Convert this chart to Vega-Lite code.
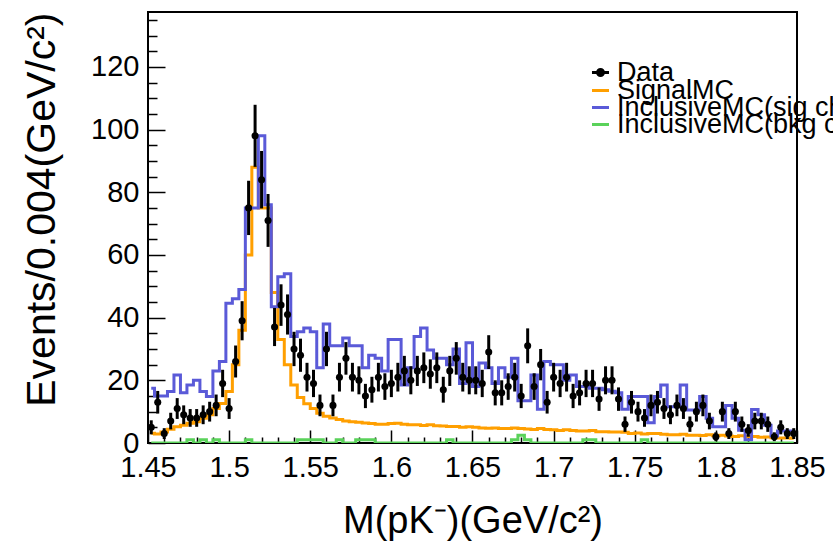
{
  "$schema": "https://vega.github.io/schema/vega-lite/v6.json",
  "width": 649,
  "height": 431,
  "autosize": {"type": "none"},
  "padding": {"left": 148, "top": 12, "right": 36, "bottom": 100},
  "background": "white",
  "config": {
    "view": {"stroke": "black", "strokeWidth": 2},
    "font": "Liberation Sans",
    "axis": {
      "domain": false, "ticks": false, "grid": true,
      "gridColor": "black", "gridWidth": 1.5, "gridOpacity": 1,
      "labelFont": "Liberation Sans", "titleFont": "Liberation Sans",
      "labelColor": "black", "titleColor": "black", "titleFontWeight": "normal",
      "labelFontSize": 29
    },
    "legend": {
      "orient": "none", "title": null, "padding": 0,
      "labelFont": "Liberation Sans", "labelFontSize": 27, "labelColor": "black",
      "labelLimit": 1000, "labelOffset": 3,
      "symbolStrokeWidth": 3, "symbolSize": 290
    }
  },
  "resolve": {"scale": {"color": "independent"}},
  "data": {"values": [
    {"m":1.452,"n":5,"err":2.24,"sig":3.1,"inc":17.5,"bkg":0},
    {"m":1.456,"n":13,"err":3.61,"sig":2.9,"inc":15,"bkg":0},
    {"m":1.460,"n":3,"err":1.73,"sig":3.5,"inc":15,"bkg":0},
    {"m":1.464,"n":7,"err":2.65,"sig":4.4,"inc":16.4,"bkg":0},
    {"m":1.468,"n":11,"err":3.32,"sig":5.2,"inc":21.7,"bkg":0},
    {"m":1.472,"n":9,"err":3,"sig":5.7,"inc":16,"bkg":0},
    {"m":1.476,"n":8,"err":2.83,"sig":6.3,"inc":18.5,"bkg":1},
    {"m":1.480,"n":8,"err":2.83,"sig":6.8,"inc":20,"bkg":0},
    {"m":1.484,"n":9,"err":3,"sig":7.9,"inc":16.4,"bkg":1},
    {"m":1.488,"n":10,"err":3.16,"sig":9,"inc":14.8,"bkg":0},
    {"m":1.492,"n":12,"err":3.46,"sig":11,"inc":23,"bkg":1},
    {"m":1.496,"n":19,"err":4.36,"sig":12.6,"inc":26,"bkg":0},
    {"m":1.500,"n":11,"err":3.32,"sig":16.4,"inc":44.6,"bkg":0},
    {"m":1.504,"n":26,"err":5.1,"sig":25,"inc":46,"bkg":0},
    {"m":1.508,"n":39,"err":6.24,"sig":36,"inc":49,"bkg":0},
    {"m":1.512,"n":75,"err":8.66,"sig":60,"inc":75,"bkg":1},
    {"m":1.516,"n":98,"err":9.9,"sig":88,"inc":75,"bkg":0},
    {"m":1.520,"n":84,"err":9.17,"sig":75,"inc":98,"bkg":0},
    {"m":1.524,"n":71,"err":8.43,"sig":75,"inc":76,"bkg":0},
    {"m":1.528,"n":37,"err":6.08,"sig":48,"inc":43.5,"bkg":0},
    {"m":1.532,"n":44,"err":6.63,"sig":33,"inc":53,"bkg":0},
    {"m":1.536,"n":41,"err":6.4,"sig":25,"inc":54,"bkg":0},
    {"m":1.540,"n":30,"err":5.48,"sig":18.5,"inc":34,"bkg":0},
    {"m":1.544,"n":28,"err":5.29,"sig":14.5,"inc":35.5,"bkg":1},
    {"m":1.548,"n":21,"err":4.58,"sig":12.5,"inc":36.7,"bkg":1},
    {"m":1.552,"n":19,"err":4.36,"sig":11,"inc":35.5,"bkg":1},
    {"m":1.556,"n":12,"err":3.46,"sig":9.5,"inc":24,"bkg":1},
    {"m":1.560,"n":30,"err":5.48,"sig":8.5,"inc":38,"bkg":0},
    {"m":1.564,"n":12,"err":3.46,"sig":8,"inc":31,"bkg":0},
    {"m":1.568,"n":21,"err":4.58,"sig":7.5,"inc":31,"bkg":1},
    {"m":1.572,"n":27,"err":5.2,"sig":7,"inc":33.5,"bkg":0},
    {"m":1.576,"n":21,"err":4.58,"sig":6.8,"inc":31,"bkg":0},
    {"m":1.580,"n":20,"err":4.47,"sig":6.6,"inc":31,"bkg":1},
    {"m":1.584,"n":15,"err":3.87,"sig":6.4,"inc":24,"bkg":1},
    {"m":1.588,"n":17,"err":4.12,"sig":6.2,"inc":28,"bkg":1},
    {"m":1.592,"n":21,"err":4.58,"sig":6,"inc":27,"bkg":0},
    {"m":1.596,"n":18,"err":4.24,"sig":6,"inc":23,"bkg":0},
    {"m":1.600,"n":19,"err":4.36,"sig":6.2,"inc":33,"bkg":0},
    {"m":1.604,"n":21,"err":4.58,"sig":6.3,"inc":33,"bkg":0},
    {"m":1.608,"n":23,"err":4.8,"sig":6,"inc":18.5,"bkg":0},
    {"m":1.612,"n":20,"err":4.47,"sig":5.8,"inc":24,"bkg":0},
    {"m":1.616,"n":23,"err":4.8,"sig":5.8,"inc":34,"bkg":0},
    {"m":1.620,"n":24,"err":4.9,"sig":5.6,"inc":36.7,"bkg":0},
    {"m":1.624,"n":22,"err":4.69,"sig":5.8,"inc":29.7,"bkg":0},
    {"m":1.628,"n":24,"err":4.9,"sig":5.5,"inc":27,"bkg":0},
    {"m":1.632,"n":17,"err":4.12,"sig":5.4,"inc":27,"bkg":0},
    {"m":1.636,"n":23,"err":4.8,"sig":5.3,"inc":25,"bkg":1},
    {"m":1.640,"n":27,"err":5.2,"sig":5.3,"inc":30,"bkg":0},
    {"m":1.644,"n":21,"err":4.58,"sig":5,"inc":19,"bkg":0},
    {"m":1.648,"n":20,"err":4.47,"sig":5.2,"inc":32,"bkg":0},
    {"m":1.652,"n":20,"err":4.47,"sig":5,"inc":18,"bkg":0},
    {"m":1.656,"n":19,"err":4.36,"sig":4.8,"inc":25.5,"bkg":0},
    {"m":1.660,"n":29,"err":5.39,"sig":4.7,"inc":24,"bkg":0},
    {"m":1.664,"n":16,"err":4,"sig":4.8,"inc":19,"bkg":0},
    {"m":1.668,"n":16,"err":4,"sig":4.6,"inc":24,"bkg":0},
    {"m":1.672,"n":18,"err":4.24,"sig":4.6,"inc":21,"bkg":0},
    {"m":1.676,"n":21,"err":4.58,"sig":4.8,"inc":27,"bkg":1},
    {"m":1.680,"n":15,"err":3.87,"sig":4.6,"inc":13.5,"bkg":2.5},
    {"m":1.684,"n":31,"err":5.57,"sig":4.5,"inc":13.5,"bkg":1},
    {"m":1.688,"n":18,"err":4.24,"sig":4.3,"inc":21.7,"bkg":0},
    {"m":1.692,"n":25,"err":5,"sig":4.6,"inc":10.8,"bkg":0},
    {"m":1.696,"n":13,"err":3.61,"sig":4.3,"inc":26,"bkg":0},
    {"m":1.700,"n":21,"err":4.58,"sig":4.2,"inc":25,"bkg":0},
    {"m":1.704,"n":19,"err":4.36,"sig":4,"inc":25,"bkg":0},
    {"m":1.708,"n":21,"err":4.58,"sig":4.2,"inc":20,"bkg":0},
    {"m":1.712,"n":15,"err":3.87,"sig":4,"inc":21.7,"bkg":0},
    {"m":1.716,"n":16,"err":4,"sig":3.8,"inc":18,"bkg":0},
    {"m":1.720,"n":19,"err":4.36,"sig":3.8,"inc":18,"bkg":1},
    {"m":1.724,"n":19,"err":4.36,"sig":4,"inc":17.5,"bkg":1},
    {"m":1.728,"n":14,"err":3.74,"sig":3.6,"inc":17.5,"bkg":0},
    {"m":1.732,"n":20,"err":4.47,"sig":3.6,"inc":17,"bkg":0},
    {"m":1.736,"n":20,"err":4.47,"sig":3.5,"inc":16.5,"bkg":0},
    {"m":1.740,"n":14,"err":3.74,"sig":3.5,"inc":16,"bkg":0},
    {"m":1.744,"n":6,"err":2.45,"sig":3.4,"inc":10.8,"bkg":0},
    {"m":1.748,"n":13,"err":3.61,"sig":3,"inc":14.8,"bkg":0},
    {"m":1.752,"n":10,"err":3.16,"sig":3.2,"inc":14.8,"bkg":0},
    {"m":1.756,"n":8,"err":2.83,"sig":2.9,"inc":14.8,"bkg":1},
    {"m":1.760,"n":12,"err":3.46,"sig":3,"inc":6.5,"bkg":0},
    {"m":1.764,"n":13,"err":3.61,"sig":3,"inc":14.8,"bkg":0},
    {"m":1.768,"n":11,"err":3.32,"sig":2.8,"inc":18.5,"bkg":0},
    {"m":1.772,"n":9,"err":3,"sig":2.6,"inc":11.6,"bkg":0},
    {"m":1.776,"n":12,"err":3.46,"sig":2.6,"inc":11.6,"bkg":0},
    {"m":1.780,"n":11,"err":3.32,"sig":2.8,"inc":18.5,"bkg":0},
    {"m":1.784,"n":6,"err":2.45,"sig":2.5,"inc":10.5,"bkg":0},
    {"m":1.788,"n":10,"err":3.16,"sig":2.5,"inc":10.5,"bkg":0},
    {"m":1.792,"n":12,"err":3.46,"sig":2.4,"inc":14.8,"bkg":0},
    {"m":1.796,"n":7,"err":2.65,"sig":2.6,"inc":7.9,"bkg":0},
    {"m":1.800,"n":2,"err":1.41,"sig":2.3,"inc":5.2,"bkg":0},
    {"m":1.804,"n":10,"err":3.16,"sig":2.5,"inc":5.2,"bkg":0},
    {"m":1.808,"n":3,"err":1.73,"sig":2.2,"inc":12,"bkg":0},
    {"m":1.812,"n":10,"err":3.16,"sig":2.1,"inc":7.9,"bkg":0},
    {"m":1.816,"n":6,"err":2.45,"sig":2.3,"inc":4.1,"bkg":0},
    {"m":1.820,"n":4,"err":2,"sig":2,"inc":1,"bkg":0},
    {"m":1.824,"n":7,"err":2.65,"sig":2.1,"inc":10.7,"bkg":0},
    {"m":1.828,"n":7,"err":2.65,"sig":1.8,"inc":9,"bkg":0},
    {"m":1.832,"n":6,"err":2.45,"sig":1.9,"inc":5.7,"bkg":0},
    {"m":1.836,"n":2,"err":1.41,"sig":1.7,"inc":2.2,"bkg":0},
    {"m":1.840,"n":5,"err":2.24,"sig":1.6,"inc":3.8,"bkg":0},
    {"m":1.844,"n":3,"err":1.73,"sig":1.6,"inc":3.8,"bkg":0},
    {"m":1.848,"n":3,"err":1.73,"sig":1.5,"inc":3.8,"bkg":0}
  ]},
  "encoding": {
    "x": {
      "field": "m", "type": "quantitative",
      "scale": {"domain": [1.45, 1.85], "nice": false, "zero": false},
      "axis": {
        "title": "M(pK⁻)(GeV/c²)", "titleFontSize": 38,
        "values": [1.45,1.46,1.47,1.48,1.49,1.5,1.51,1.52,1.53,1.54,1.55,1.56,1.57,1.58,1.59,1.6,1.61,1.62,1.63,1.64,1.65,1.66,1.67,1.68,1.69,1.7,1.71,1.72,1.73,1.74,1.75,1.76,1.77,1.78,1.79,1.8,1.81,1.82,1.83,1.84,1.85],
        "format": "~g",
        "labelExpr": "round(datum.value*100) % 5 === 0 ? datum.label : ''",
        "labelOverlap": false, "labelFlush": false, "labelBound": false,
        "labelPadding": 10, "titlePadding": 20,
        "gridDash": {"condition": {"test": "round(datum.value*100) % 5 === 0", "value": [0, 418, 13, 2000]}, "value": [0, 425, 6, 2000]}
      }
    },
    "y": {
      "field": "n", "type": "quantitative",
      "scale": {"domain": [0, 137.5], "nice": false},
      "axis": {
        "title": "Events/0.004(GeV/c²)", "titleFontSize": 41, "titleAnchor": "end",
        "values": [0,5,10,15,20,25,30,35,40,45,50,55,60,65,70,75,80,85,90,95,100,105,110,115,120,125,130,135],
        "format": "d",
        "labelExpr": "datum.value % 20 === 0 ? datum.label : ''",
        "labelOverlap": false, "labelBound": false,
        "labelPadding": 9, "titlePadding": 27,
        "gridDash": {"condition": {"test": "datum.value % 20 === 0", "value": [17, 2000]}, "value": [9, 2000]}
      }
    }
  },
  "layer": [
    {
      "transform": [{"fold": ["sig", "inc", "bkg"], "as": ["series", "n"]}, {"filter": "datum.series === 'sig'"}],
      "mark": {"type": "line", "interpolate": "step", "strokeWidth": 3, "clip": true},
      "encoding": {
        "color": {
          "datum": "SignalMC",
          "scale": {"range": ["#ff9f00"]},
          "legend": {"legendX": 439, "legendY": 65, "symbolType": "stroke"}
        }
      }
    },
    {
      "transform": [{"fold": ["sig", "inc", "bkg"], "as": ["series", "n"]}, {"filter": "datum.series === 'inc'"}],
      "mark": {"type": "line", "interpolate": "step", "strokeWidth": 3, "clip": true},
      "encoding": {
        "color": {
          "datum": "InclusiveMC(sig channel)",
          "scale": {"range": ["#5a5ad8"]},
          "legend": {"legendX": 439, "legendY": 82, "symbolType": "stroke"}
        }
      }
    },
    {
      "transform": [{"fold": ["sig", "inc", "bkg"], "as": ["series", "n"]}, {"filter": "datum.series === 'bkg'"}],
      "mark": {"type": "line", "interpolate": "step", "strokeWidth": 3, "clip": true},
      "encoding": {
        "color": {
          "datum": "InclusiveMC(bkg channel)",
          "scale": {"range": ["#5ad25a"]},
          "legend": {"legendX": 439, "legendY": 99, "symbolType": "stroke"}
        }
      }
    },
    {
      "mark": {"type": "errorbar", "thickness": 3, "color": "black"},
      "encoding": {
        "yError": {"field": "err"}
      }
    },
    {
      "mark": {"type": "circle", "size": 50, "opacity": 1},
      "encoding": {
        "color": {
          "datum": "Data",
          "scale": {"range": ["#000000"]},
          "legend": {
            "legendX": 439, "legendY": 47,
            "symbolType": "M-1,0H1M0.35,0A0.35,0.35,0,1,1,-0.35,0A0.35,0.35,0,1,1,0.35,0Z",
            "symbolFillColor": "black", "symbolStrokeColor": "black", "symbolOpacity": 1
          }
        }
      }
    }
  ]
}
